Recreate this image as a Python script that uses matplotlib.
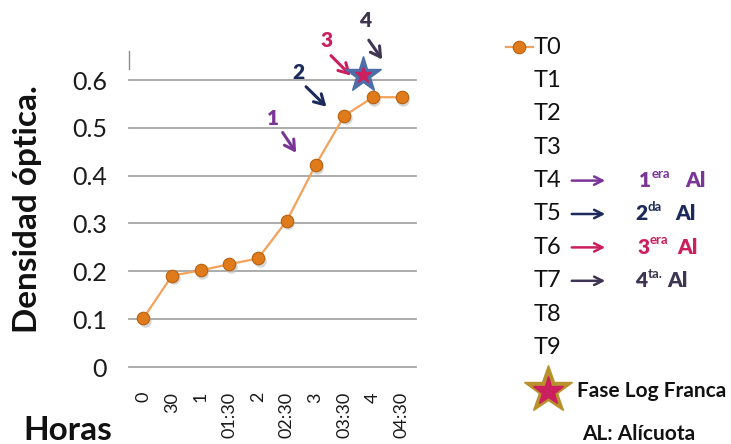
import matplotlib
matplotlib.use("Agg")
import matplotlib.pyplot as plt
import matplotlib.transforms as mtransforms

plt.rcParams['font.family'] = ['Lato', 'DejaVu Sans']

# ---------- datos ----------
horas = ["0", "30", "1", "01:30", "2", "02:30", "3", "03:30", "4", "04:30"]
densidad = [0.102, 0.191, 0.202, 0.215, 0.227, 0.306, 0.422, 0.525, 0.564, 0.564]
leyenda_t = ["T0", "T1", "T2", "T3", "T4", "T5", "T6", "T7", "T8", "T9"]
y_ticks = [0, 0.1, 0.2, 0.3, 0.4, 0.5, 0.6]

# alícuotas: número, color, (inicio flecha), (fin flecha)
alicuotas = ["1", "2", "3", "4"]
ali_colores = ["#7a3596", "#1c2b5c", "#cc1f5f", "#3e3552"]
ali_label_xy = [(4.52, 0.52), (5.39, 0.616), (6.40, 0.683), (7.72, 0.724)]
ali_flecha_ini = [(4.80, 0.495), (5.60, 0.590), (6.47, 0.655), (7.80, 0.688)]
ali_flecha_fin = [(5.38, 0.443), (6.45, 0.540), (7.30, 0.605), (8.38, 0.638)]
ali_sufijo = ["era", "da", "era", "ta."]
ali_fila = [4, 5, 6, 7]

# fase log franca
star_x, star_y = 7.65, 0.61
# ---------------------------

W, H = 731, 444
fig = plt.figure(figsize=(W / 100, H / 100), dpi=100)

def fx(px):
    return px / W

def fy(py):
    return 1 - py / H

ax = fig.add_axes([fx(129), fy(367), fx(416) - fx(129), fy(80) - fy(367)])
x = list(range(len(horas)))

for s in ax.spines.values():
    s.set_visible(False)
ax.set_xlim(-0.5, len(horas) - 0.5)
ax.set_ylim(0, 0.6)
ax.set_yticks(y_ticks)
ax.set_yticklabels([f"{v:g}" for v in y_ticks], fontsize=18, color="#1a1a1a")
ax.yaxis.grid(True, color="#a6a6a6", lw=1.3)
ax.tick_params(axis="y", length=0, pad=16)
ax.set_xticks(x)
ax.set_xticklabels(horas, rotation=90, fontsize=13, color="#1a1a1a")
ax.tick_params(axis="x", length=0, pad=18)
ax.set_axisbelow(True)
for g in ax.get_ygridlines():
    g.set_clip_on(False)

# trazo vertical suelto sobre el eje
ax.axvline(-0.5, ymin=1.04, ymax=1.1, color="#8c8c8c", lw=1.0, clip_on=False)

# sombra de los puntos
shadow = mtransforms.offset_copy(ax.transData, fig=fig, x=1.5, y=-2.5, units="dots")
ax.plot(x, densidad, "o", ms=9, color="#bdbdbd", alpha=0.6, mec="none",
        transform=shadow, zorder=2)
ax.plot(x, densidad, "-", color="#f4a25a", lw=1.6, zorder=3)
ax.plot(x, densidad, "o", ms=9, mfc="#e07b1c", mec="#b8600f", mew=0.8, zorder=4)

# estrella fase log
ax.plot(star_x, star_y, marker="*", ms=27, mfc="#4d6ea8", mec="#4d6ea8",
        clip_on=False, zorder=5)
ax.plot(star_x, star_y, marker="*", ms=12, mfc="#cc1f5f", mec="#cc1f5f",
        clip_on=False, zorder=6)

# flechas de las alícuotas
for lab, col, lxy, p0, p1 in zip(alicuotas, ali_colores, ali_label_xy,
                                 ali_flecha_ini, ali_flecha_fin):
    ax.annotate("", xy=p1, xytext=p0, annotation_clip=False,
                arrowprops=dict(arrowstyle="->,head_length=0.7,head_width=0.4",
                                color=col, lw=2.2))
    ax.text(lxy[0], lxy[1], lab, color=col, fontsize=15, fontweight="heavy",
            ha="center", va="center", clip_on=False)

# títulos de ejes
fig.text(fx(28), fy(209), "Densidad óptica.", rotation=90, fontsize=24,
         fontweight="bold", ha="center", va="center", color="#111111")
fig.text(fx(23), fy(430), "Horas", fontsize=24, fontweight="bold",
         ha="left", va="center", color="#111111")

# leyenda
row_y = [47 + 33.4 * i for i in range(len(leyenda_t))]
for t, py in zip(leyenda_t, row_y):
    fig.text(fx(534), fy(py), t, fontsize=17, ha="left", va="center", color="#111111")

leg = fig.add_axes([0, 0, 1, 1], facecolor="none")
leg.set_xlim(0, W)
leg.set_ylim(H, 0)
leg.axis("off")
leg.plot([506, 533], [row_y[0], row_y[0]], "-", color="#f4a25a", lw=1.6)
leg.plot([519], [row_y[0]], "o", ms=9, mfc="#e07b1c", mec="#b8600f", mew=0.8)

num_x = [639, 635, 637, 635]
al_x = [685, 675, 677, 667]
for num, suf, col, fila, x0, xa in zip(alicuotas, ali_sufijo, ali_colores,
                                       ali_fila, num_x, al_x):
    py = row_y[fila]
    leg.annotate("", xy=(608, py), xytext=(569, py),
                 arrowprops=dict(arrowstyle="->,head_length=0.6,head_width=0.3",
                                 color=col, lw=1.8))
    fig.text(fx(x0), fy(py), num, fontsize=15, fontweight="heavy", color=col,
             ha="left", va="center")
    fig.text(fx(x0 + 13), fy(py - 7), suf, fontsize=9.5, fontweight="bold",
             color=col, ha="left", va="center")
    fig.text(fx(xa), fy(py), "Al", fontsize=15, fontweight="heavy",
             color=col, ha="left", va="center")

leg.plot([548], [390], marker="*", ms=36, mfc="#b8912c", mec="#b8912c")
leg.plot([548], [391], marker="*", ms=22, mfc="#cc1f5f", mec="#cc1f5f")
fig.text(fx(577), fy(391), "Fase Log Franca", fontsize=15, fontweight="bold",
         ha="left", va="center", color="#111111")
fig.text(fx(582), fy(434), "AL: Alícuota", fontsize=15, fontweight="bold",
         ha="left", va="center", color="#111111")

fig.savefig("out.png", dpi=100)
